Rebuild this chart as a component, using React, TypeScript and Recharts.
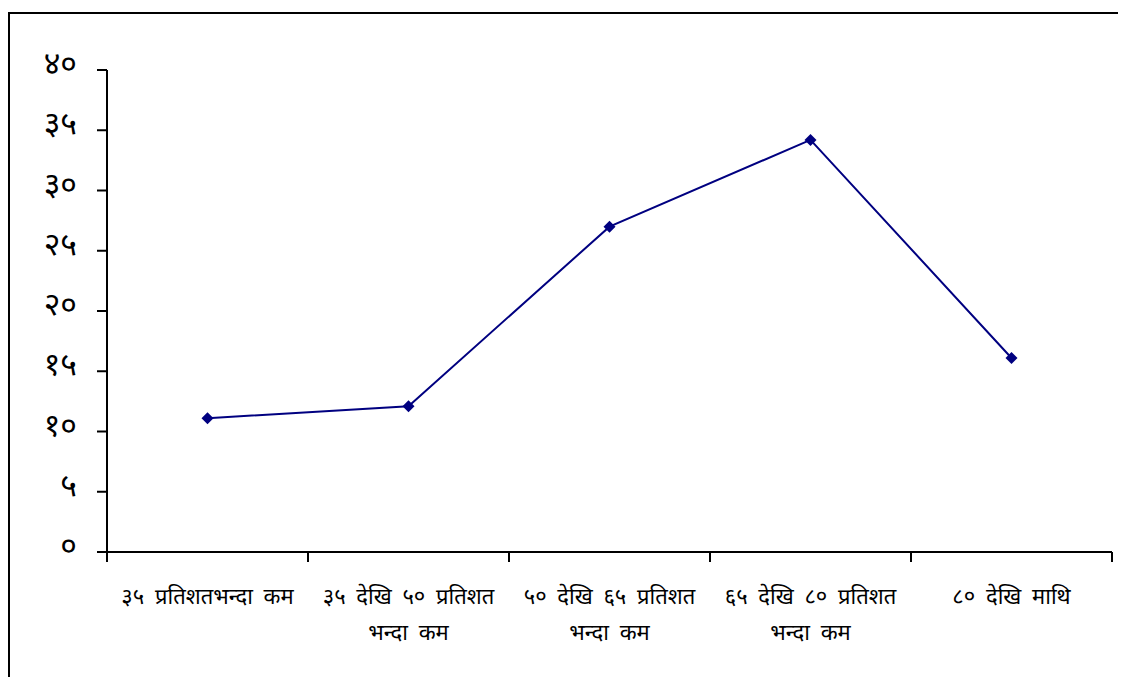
import React from 'react';
import { LineChart, Line, XAxis, YAxis } from 'recharts';

// श्रेणीहरू (दुई पङ्क्तिमा देखाउन \n प्रयोग)
const categories = [
  '३५ प्रतिशतभन्दा कम',
  '३५ देखि ५० प्रतिशत\nभन्दा कम',
  '५० देखि ६५ प्रतिशत\nभन्दा कम',
  '६५ देखि ८० प्रतिशत\nभन्दा कम',
  '८० देखि माथि',
];
const values = [11.1, 12.1, 27.0, 34.2, 16.1];
const yTicks = [0, 5, 10, 15, 20, 25, 30, 35, 40];
const yTickLabels = ['०', '५', '१०', '१५', '२०', '२५', '३०', '३५', '४०'];

const data = categories.map((name, i) => ({ name, value: values[i] }));

const FONT = '"Noto Sans", "DejaVu Sans", sans-serif';

// tick lines go on the category boundaries, labels in the middle
const CategoryTick = (props: any) => {
  const { x, y, payload, index, visibleTicksCount } = props;
  const half = payload.offset || 0;
  const lines = String(payload.value).split('\n');
  const isLast = index === (visibleTicksCount ?? categories.length) - 1;
  return (
    <g>
      <line x1={x - half} x2={x - half} y1={y} y2={y + 10} stroke="#000" strokeWidth={2} />
      {isLast && (
        <line x1={x + half} x2={x + half} y1={y} y2={y + 10} stroke="#000" strokeWidth={2} />
      )}
      {lines.map((line, i) => (
        <text
          key={i}
          x={x}
          y={y + 52 + i * 36}
          textAnchor="middle"
          fontSize={22}
          fontFamily={FONT}
          wordSpacing={5}
          fill="#000"
        >
          {line}
        </text>
      ))}
    </g>
  );
};

const YTick = (props: any) => {
  const { x, y, payload } = props;
  const idx = yTicks.indexOf(payload.value);
  return (
    <text x={x} y={y + 4} textAnchor="end" fontSize={32} fontFamily={FONT} fill="#000">
      {yTickLabels[idx]}
    </text>
  );
};

const Diamond = (props: any) => {
  const { cx, cy } = props;
  if (cx == null || cy == null) return null;
  const r = 6;
  return (
    <path
      d={`M${cx},${cy - r}L${cx + r},${cy}L${cx},${cy + r}L${cx - r},${cy}Z`}
      fill="#000080"
      stroke="none"
    />
  );
};

export default function App() {
  return (
    <div style={{ position: 'relative', width: 1118, height: 669 }}>
      <style>{`body{overflow:hidden}`}</style>
      <div
        style={{
          position: 'absolute',
          left: 0,
          top: 4,
          width: 1140,
          height: 700,
          border: '2px solid #000',
          boxSizing: 'border-box',
        }}
      />
      <div style={{ position: 'absolute', left: 0, top: 0 }}>
        <LineChart
          width={1118}
          height={669}
          data={data}
          margin={{ top: 62, right: 14, left: 39, bottom: 15 }}
        >
          <XAxis
            dataKey="name"
            scale="band"
            height={110}
            axisLine={{ stroke: '#000', strokeWidth: 2 }}
            tickLine={false}
            tickSize={0}
            tickMargin={0}
            interval={0}
            tick={<CategoryTick />}
          />
          <YAxis
            domain={[0, 40]}
            ticks={yTicks}
            width={60}
            axisLine={{ stroke: '#000', strokeWidth: 2 }}
            tickLine={{ stroke: '#000', strokeWidth: 2 }}
            tickSize={10}
            tickMargin={20}
            interval={0}
            tick={<YTick />}
          />
          <Line
            dataKey="value"
            stroke="#000080"
            strokeWidth={2}
            dot={<Diamond />}
            activeDot={false}
            isAnimationActive={false}
          />
        </LineChart>
      </div>
    </div>
  );
}
